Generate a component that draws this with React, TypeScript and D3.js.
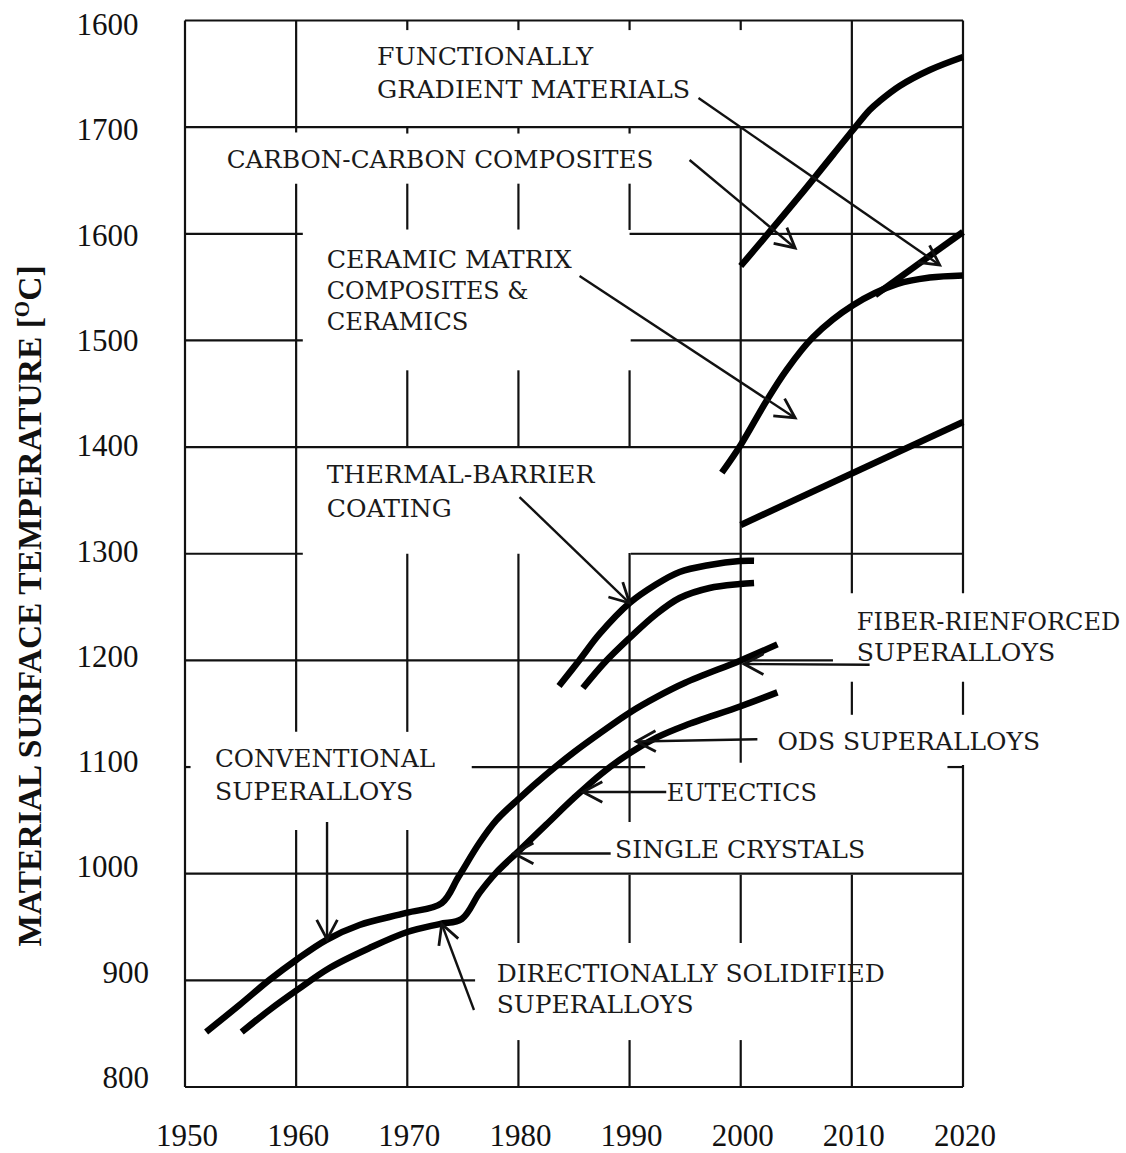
import React from "react";
import * as d3 from "d3";

// ---------- DATA (year, temperature °C) ----------
const conventionalSuperalloys: [number, number][] = [
  [1951.9, 851.6], [1954.9, 876.9], [1957.6, 900.4], [1960.0, 919.1], [1962.7, 937.8],
  [1965.7, 951.9], [1969.9, 963.2], [1973.1, 972.5], [1974.6, 996.9], [1976.5, 1029],
  [1978.0, 1050], [1980.0, 1070], [1982.5, 1093], [1985.0, 1114], [1987.5, 1133],
  [1990.0, 1151], [1992.5, 1166], [1995.0, 1179], [2000.0, 1200], [2003.3, 1215],
];
const directionalSolidified: [number, number][] = [
  [1955.1, 851.6], [1957.6, 872.2], [1960.1, 891.0], [1963.0, 911.6], [1966.6, 930.3],
  [1970.0, 945.3], [1972.9, 952.8], [1974.9, 957.5], [1976.5, 982], [1978.0, 1001],
  [1980.0, 1021], [1982.5, 1046], [1985.0, 1071], [1987.5, 1094], [1990.0, 1113],
  [1992.5, 1128], [1995.0, 1139], [2000.0, 1157], [2003.3, 1170],
];
const thermalBarrierUpper: [number, number][] = [
  [1983.65, 1176.0], [1985.5, 1200.4], [1987.3, 1224.8], [1990.0, 1253.8], [1992.3, 1270.7],
  [1994.5, 1282.9], [1997.2, 1289.5], [1999.9, 1293.2], [2001.2, 1293.4],
];
const thermalBarrierLower: [number, number][] = [
  [1985.8, 1174.1], [1987.8, 1198.5], [1990.0, 1221.0], [1992.3, 1242.6], [1994.5, 1258.5],
  [1997.2, 1267.9], [1999.9, 1271.6], [2001.2, 1272.6],
];
const fiberReinforced: [number, number][] = [[2000.0, 1327.0], [2020.0, 1423.5]];
const ceramicMatrix: [number, number][] = [
  [1998.3, 1376], [2000.0, 1402], [2002.3, 1443], [2004.1, 1472], [2006.5, 1503],
  [2010.1, 1533], [2014.1, 1553], [2017.0, 1559], [2020.0, 1561],
];
const functionallyGradient: [number, number][] = [[2012.1, 1542.6], [2020.0, 1601.7]];
const carbonCarbon: [number, number][] = [
  [2000.0, 1569.8], [2005.3, 1635.5], [2010.1, 1697.3], [2011.6, 1716.1], [2012.5, 1724.5],
  [2014.3, 1738.6], [2017.0, 1753.6], [2020.0, 1765.8],
];
const allSeries = [
  conventionalSuperalloys, directionalSolidified, thermalBarrierUpper, thermalBarrierLower,
  fiberReinforced, ceramicMatrix, functionallyGradient, carbonCarbon,
];

// ---------- AXES ----------
const xTicks = [1950, 1960, 1970, 1980, 1990, 2000, 2010, 2020];
const xTickLabels = ["1950", "1960", "1970", "1980", "1990", "2000", "2010", "2020"];
const yTicks = [800, 900, 1000, 1100, 1200, 1300, 1400, 1500, 1600, 1700, 1800];
const yTickLabels = ["800", "900", "1000", "1100", "1200", "1300", "1400", "1500", "1600", "1700", "1600"];

// grid segments (broken around the annotations)
const gridHorizontal: [number, number, number][] = [
  [1800, 1950, 2020], [1700, 1950, 2020],
  [1600, 1950, 1960.6], [1600, 1990, 2020],
  [1500, 1950, 1960.6], [1500, 1990.1, 2020],
  [1400, 1950, 2020],
  [1300, 1950, 1960.6], [1300, 1990.1, 2020],
  [1200, 1950, 2008.3],
  [1100, 1950, 1950.5], [1100, 1975.8, 1991.4], [1100, 2018.6, 2020],
  [1000, 1950, 2020],
  [900, 1950, 1976.1],
  [800, 1950, 2020],
];
const gridVertical: [number, number, number][] = [
  [1950, 800, 1800],
  [1960, 1695, 1800], [1960, 1133, 1647], [1960, 800, 1041],
  [1970, 1791, 1800], [1970, 1694, 1700], [1970, 1604, 1647], [1970, 1400, 1472], [1970, 1133, 1300], [1970, 800, 1041],
  [1980, 1791, 1800], [1980, 1694, 1700], [1980, 1604, 1647], [1980, 1400, 1472], [1980, 935, 1300], [1980, 800, 844],
  [1990, 1791, 1800], [1990, 1694, 1700], [1990, 1603.6, 1647], [1990, 1400, 1472], [1990, 1048.5, 1300.7], [1990, 935, 999], [1990, 800, 844],
  [2000, 1791, 1800], [2000, 1104, 1700], [2000, 935, 999], [2000, 800, 844],
  [2010, 1263, 1800], [2010, 1149, 1180], [2010, 800, 999],
  [2020, 1263, 1800], [2020, 1149, 1180], [2020, 800, 1102],
];

// annotation labels: text, year, temp (baseline), width in years
const labelTexts = [
  "FUNCTIONALLY", "GRADIENT MATERIALS", "CARBON-CARBON COMPOSITES",
  "CERAMIC MATRIX", "COMPOSITES &", "CERAMICS",
  "THERMAL-BARRIER", "COATING",
  "CONVENTIONAL", "SUPERALLOYS",
  "DIRECTIONALLY SOLIDIFIED", "SUPERALLOYS",
  "SINGLE CRYSTALS", "EUTECTICS", "ODS SUPERALLOYS",
  "FIBER-RIENFORCED", "SUPERALLOYS",
];
const labelYears = [
  1967.28, 1967.28, 1953.75,
  1962.75, 1962.75, 1962.75,
  1962.75, 1962.75,
  1952.7, 1952.7,
  1978.05, 1978.05,
  1988.7, 1993.35, 2003.3,
  2010.45, 2010.45,
];
const labelTemps = [
  1758.3, 1727.3, 1661.7,
  1567.9, 1539.3, 1509.8,
  1366.3, 1334.9,
  1100.5, 1069.1,
  898.9, 869.4,
  1014.7, 1067.7, 1116.0,
  1228.5, 1199.0,
];
const labelSpans = [
  19.43, 28.16, 38.4,
  22.05, 18.15, 12.75,
  24.1, 11.25,
  19.8, 17.82,
  34.91, 17.7,
  22.49, 13.5, 23.64,
  23.7, 17.85,
];

// arrows: [fromYear, fromTemp, toYear, toTemp]
const arrows: [number, number, number, number][] = [
  [1962.78, 1048.5, 1962.78, 938.5],
  [1976.0, 872.2, 1973.1, 952.8],
  [1988.3, 1019.0, 1979.6, 1019.0],
  [1993.3, 1076.6, 1985.8, 1076.6],
  [2001.5, 1126.0, 1990.6, 1124.0],
  [2011.6, 1195.9, 2000.3, 1196.6],
  [1980.1, 1353.2, 1990.0, 1253.8],
  [1985.5, 1560.4, 2004.9, 1427.3],
  [1995.4, 1669.2, 2004.9, 1586.7],
  [1996.2, 1727.3, 2017.9, 1570.8],
];

const x = d3.scaleLinear().domain([1950, 2020]).range([185, 963]);
const y = d3.scaleLinear().domain([800, 1800]).range([1087, 20.5]);
const yLabel = d3.scaleLinear().domain([800, 1800]).range([1077, 24]);

const line = d3
  .line<[number, number]>()
  .x((d) => x(d[0]))
  .y((d) => y(d[1]))
  .curve(d3.curveCatmullRom.alpha(0.5));

function arrowHead(x1: number, y1: number, x2: number, y2: number) {
  const a = Math.atan2(y2 - y1, x2 - x1);
  const L = 22;
  const t = (28 * Math.PI) / 180;
  const b1 = [x2 - L * Math.cos(a - t), y2 - L * Math.sin(a - t)];
  const b2 = [x2 - L * Math.cos(a + t), y2 - L * Math.sin(a + t)];
  return `M${b1[0]},${b1[1]}L${x2},${y2}L${b2[0]},${b2[1]}`;
}

export default function App() {
  const ink = "#111";
  return (
    <div style={{ position: "fixed", left: 0, top: 0 }}>
      <svg width={1126} height={1153} style={{ display: "block", background: "#fff" }}>
        {/* grid */}
        <g stroke={ink} strokeWidth={2.2} fill="none">
          {gridHorizontal.map(([t, a, b], i) => (
            <line key={"h" + i} x1={x(a)} x2={x(b)} y1={y(t)} y2={y(t)} />
          ))}
          {gridVertical.map(([yr, a, b], i) => (
            <line key={"v" + i} x1={x(yr)} x2={x(yr)} y1={y(a)} y2={y(b)} />
          ))}
        </g>

        {/* curves */}
        <g stroke="#000" strokeWidth={6.5} fill="none" strokeLinejoin="round">
          {allSeries.map((s, i) => (
            <path key={"s" + i} d={line(s) || ""} />
          ))}
        </g>

        {/* arrows */}
        <g stroke={ink} strokeWidth={2.4} fill="none">
          {arrows.map(([a, b, c, d], i) => {
            const x1 = x(a), y1 = y(b), x2 = x(c), y2 = y(d);
            return (
              <g key={"a" + i}>
                <line x1={x1} y1={y1} x2={x2} y2={y2} />
                <path d={arrowHead(x1, y1, x2, y2)} strokeWidth={2.8} />
              </g>
            );
          })}
        </g>

        {/* annotation labels */}
        <g fontFamily="'DejaVu Serif', serif" fontSize={24} fill="#1a1a1a">
          {labelTexts.map((txt, i) => (
            <text
              key={"l" + i}
              x={x(labelYears[i])}
              y={y(labelTemps[i])}
              textLength={x(labelYears[i] + labelSpans[i]) - x(labelYears[i])}
              lengthAdjust="spacingAndGlyphs"
            >
              {txt}
            </text>
          ))}
        </g>

        {/* tick labels */}
        <g fontFamily="'Liberation Serif', 'Times New Roman', serif" fontSize={31} fill="#111">
          {yTicks.map((t, i) => (
            <text
              key={"yt" + i}
              x={yTickLabels[i].length === 4 ? 138.5 : 149}
              y={yLabel(t) + 11}
              textAnchor="end"
            >
              {yTickLabels[i]}
            </text>
          ))}
          {xTicks.map((t, i) => (
            <text key={"xt" + i} x={x(t) + 2} y={1146} textAnchor="middle">
              {xTickLabels[i]}
            </text>
          ))}
        </g>

        {/* y title */}
        <text
          transform="translate(41,606) rotate(-90)"
          textAnchor="middle"
          fontFamily="'Liberation Serif', 'Times New Roman', serif"
          fontWeight="bold"
          fontSize={33.5}
          fill="#111"
        >
          MATERIAL SURFACE TEMPERATURE [<tspan dy={-12} fontSize={21}>O</tspan>
          <tspan dy={12}>C]</tspan>
        </text>
      </svg>
    </div>
  );
}
